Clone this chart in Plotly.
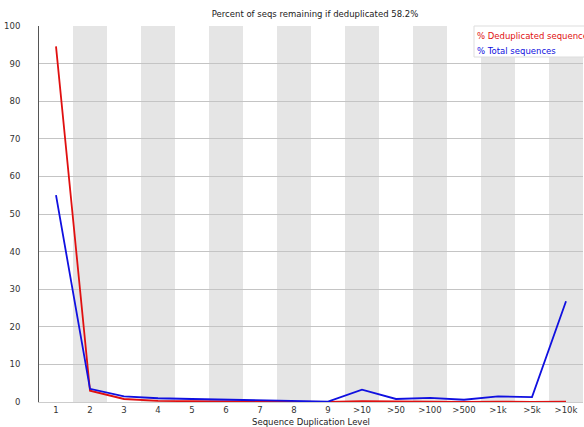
import plotly.graph_objects as go

categories = ["1", "2", "3", "4", "5", "6", "7", "8", "9", ">10", ">50", ">100", ">500", ">1k", ">5k", ">10k"]
dedup = [94.6, 3.0, 0.8, 0.3, 0.2, 0.1, 0.1, 0.1, 0.0, 0.2, 0.1, 0.1, 0.0, 0.1, 0.0, 0.1]
total = [55.0, 3.5, 1.5, 1.0, 0.8, 0.6, 0.4, 0.4, 0.1, 3.3, 0.8, 1.1, 0.6, 1.5, 1.3, 26.8]
title_text = "Percent of seqs remaining if deduplicated 58.2%"

xs = list(range(len(categories)))
FONT = "DejaVu Sans"
FS = 8.5

fig = go.Figure()
fig.add_trace(go.Scatter(x=xs, y=dedup, mode="lines", line=dict(color="#e01010", width=1.8),
                         name="% Deduplicated sequences", showlegend=False))
fig.add_trace(go.Scatter(x=xs, y=total, mode="lines", line=dict(color="#1010e0", width=1.8),
                         name="% Total sequences", showlegend=False))

shapes = []
for i in xs:
    if i % 2 == 1:
        shapes.append(dict(type="rect", xref="x", yref="paper", x0=i - 0.5, x1=i + 0.5, y0=0, y1=1,
                           fillcolor="#e5e5e5", line=dict(width=0), layer="below"))
# legend box
shapes.append(dict(type="rect", xref="paper", yref="paper", x0=(474 - 39) / 544, x1=1.01,
                   y0=1 - 31 / 376, y1=1, fillcolor="white", line=dict(color="#dddddd", width=1), layer="above"))

fig.update_layout(
    width=584, height=427,
    margin=dict(l=39, r=1, t=26, b=25, autoexpand=False),
    paper_bgcolor="white", plot_bgcolor="white",
    font=dict(family=FONT, size=FS, color="#222222"),
    shapes=shapes,
    title=dict(text=title_text, x=315 / 584, xanchor="center", y=1 - 14 / 427, yanchor="middle",
               font=dict(size=FS, family=FONT, color="#222222")),
    xaxis=dict(range=[-0.5, 15.5], tickmode="array", tickvals=xs, ticktext=categories,
               showgrid=False, zeroline=False, showline=True, linecolor="#cccccc", linewidth=1,
               ticks="", automargin=False, tickfont=dict(size=FS, family=FONT, color="#333333"),
               title=dict(text="Sequence Duplication Level", font=dict(size=FS, family=FONT, color="#222222"),
                          standoff=5)),
    yaxis=dict(range=[0, 100], tickmode="array", tickvals=list(range(0, 101, 10)),
               showgrid=True, gridcolor="#c4c4c4", gridwidth=1, zeroline=False,
               showline=True, linecolor="#555555", linewidth=1, ticks="", automargin=False,
               ticklabelstandoff=16, tickfont=dict(size=FS, family=FONT, color="#333333")),
    annotations=[
        dict(text="% Deduplicated sequences", xref="paper", yref="paper", x=(475 - 39) / 544,
             y=1 - 10 / 376, xanchor="left", yanchor="middle", showarrow=False,
             font=dict(size=FS, family=FONT, color="#e01010")),
        dict(text="% Total sequences", xref="paper", yref="paper", x=(475 - 39) / 544,
             y=1 - 25 / 376, xanchor="left", yanchor="middle", showarrow=False,
             font=dict(size=FS, family=FONT, color="#1010e0")),
    ],
)

fig.write_html("out.html", config={"displayModeBar": False},
               post_script=["document.body.style.margin='0';document.body.style.overflow='hidden';"])
